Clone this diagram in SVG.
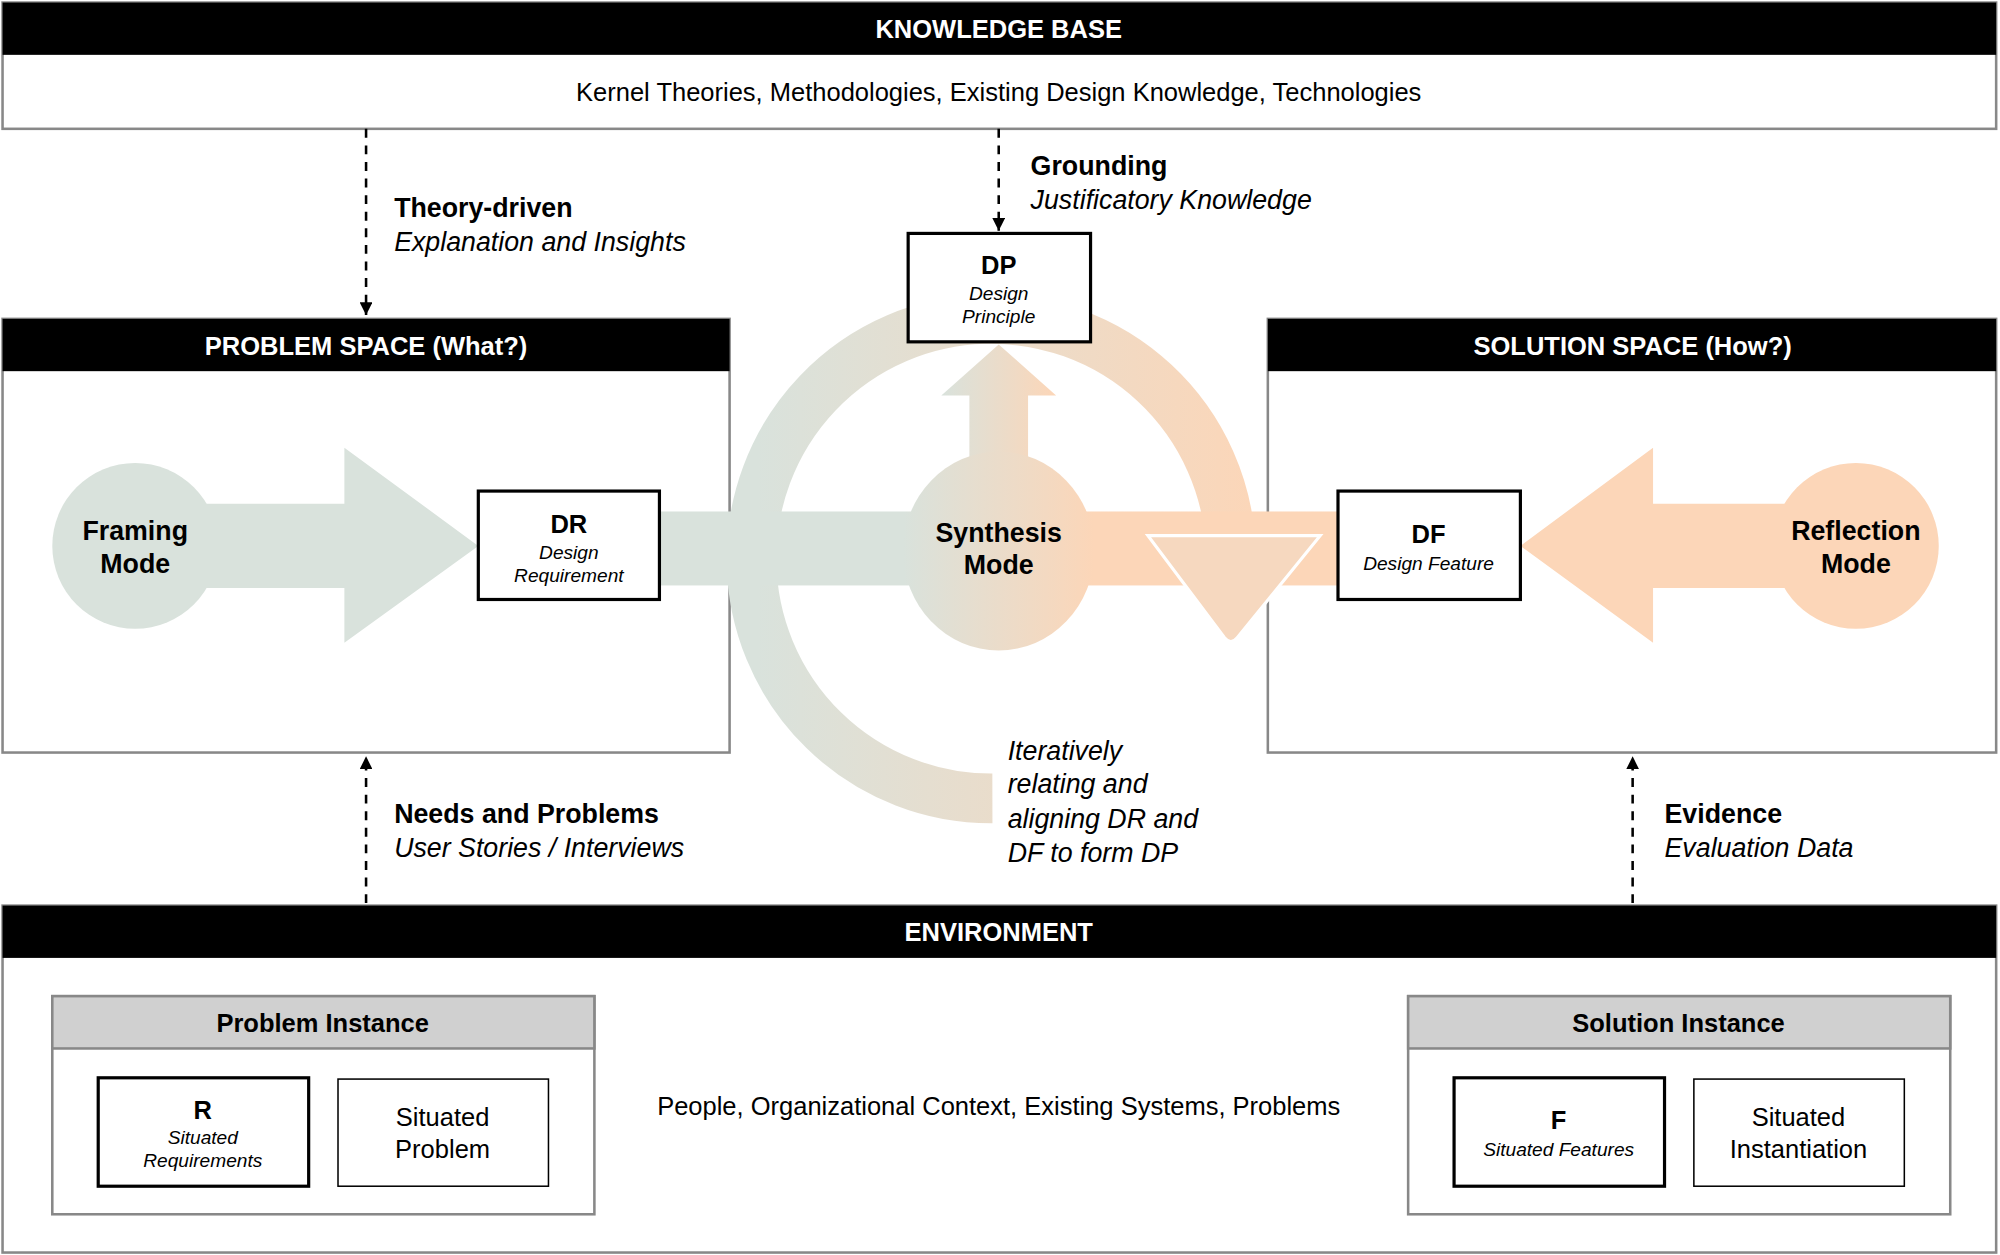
<svg xmlns="http://www.w3.org/2000/svg" width="2000" height="1255" viewBox="0 0 2000 1255">
<defs>
<linearGradient id="gH" x1="0" y1="0" x2="1" y2="0"><stop offset="0" stop-color="#d9e2dc"/><stop offset="1" stop-color="#fcd6b8"/></linearGradient>
<linearGradient id="gBand" gradientUnits="userSpaceOnUse" x1="517" y1="0" x2="1049" y2="0"><stop offset="0.36" stop-color="#d9e2dc"/><stop offset="0.64" stop-color="#fcd6b8"/></linearGradient>
<linearGradient id="gRing" gradientUnits="userSpaceOnUse" x1="571" y1="0" x2="1035" y2="0"><stop offset="0.05" stop-color="#d9e2dc"/><stop offset="0.9" stop-color="#fcd6b8"/></linearGradient>
<marker id="ah" viewBox="0 0 10 10" refX="10" refY="5" markerWidth="10" markerHeight="10" markerUnits="userSpaceOnUse" orient="auto"><path d="M0,0 L10,5 L0,10 z" fill="#000"/></marker>
<style>
text{font-family:"Liberation Sans",Arial,sans-serif;fill:#000}
.hd{font-weight:bold;font-size:20px;fill:#fff;text-anchor:middle}
.b{font-weight:bold;font-size:21px}
.i{font-style:italic;font-size:21px}
.r{font-size:20px}
.c{text-anchor:middle}
.bt{font-weight:bold;font-size:20px;text-anchor:middle}
.sm{font-style:italic;font-size:15px;text-anchor:middle}
.frame{fill:#fff;stroke:#888;stroke-width:2}
.box{fill:#fff;stroke:#000;stroke-width:2.5}
.dash{stroke:#000;stroke-width:2;stroke-dasharray:7 6;fill:none}
</style>
</defs>
<g transform="scale(1.2755)">
<g id="knowledge-base">
<rect class="frame" x="2" y="2" width="1563" height="99"/>
<rect x="2" y="2" width="1563" height="41" fill="#000"/>
<text class="hd" x="783" y="30">KNOWLEDGE BASE</text>
<text class="r c" x="783" y="79">Kernel Theories, Methodologies, Existing Design Knowledge, Technologies</text>
</g>
<g id="problem-space">
<rect class="frame" x="2" y="250" width="570" height="340"/>
<rect x="2" y="250" width="570" height="41" fill="#000"/>
<text class="hd" x="287" y="278">PROBLEM SPACE (What?)</text>
</g>
<g id="solution-space">
<rect class="frame" x="994" y="250" width="571" height="340"/>
<rect x="994" y="250" width="571" height="41" fill="#000"/>
<text class="hd" x="1280" y="278">SOLUTION SPACE (How?)</text>
</g>
<g id="iteration-ring">
<path d="M772,626 L778,626 A188,188 0 1 1 965,430 L965,420" fill="none" stroke="url(#gRing)" stroke-width="39"/>
</g>
<g id="band">
<rect x="517" y="401" width="532" height="58" fill="url(#gBand)"/>
<path d="M900,420 L1035,420 L970,500 Q965,506 960,500 Z" fill="#f6d8bf" stroke="#fff" stroke-width="2.5"/>
</g>
<g id="framing-mode">
<circle cx="106" cy="428" r="65" fill="#d9e2dc"/>
<path d="M106,395 L270,395 L270,351 L375,428 L270,504 L270,461 L106,461 Z" fill="#d9e2dc"/>
<text class="b c" x="106" y="423">Framing</text>
<text class="b c" x="106" y="449">Mode</text>
</g>
<g id="reflection-mode">
<circle cx="1455" cy="428" r="65" fill="#fcd6b8"/>
<path d="M1455,395 L1296,395 L1296,351 L1192,428 L1296,504 L1296,461 L1455,461 Z" fill="#fcd6b8"/>
<text class="b c" x="1455" y="423">Reflection</text>
<text class="b c" x="1455" y="449">Mode</text>
</g>
<g id="synthesis-mode">
<path d="M760,360 L760,310 L738,310 L783,270 L828,310 L806,310 L806,360 Z" fill="url(#gH)"/>
<ellipse cx="783" cy="432" rx="75" ry="78" fill="url(#gH)"/>
<text class="b c" x="783" y="425">Synthesis</text>
<text class="b c" x="783" y="450">Mode</text>
</g>
<g id="dp">
<rect class="box" x="712" y="183" width="143" height="85"/>
<text class="bt" x="783" y="215">DP</text>
<text class="sm" x="783" y="235">Design</text>
<text class="sm" x="783" y="253">Principle</text>
</g>
<g id="dr">
<rect class="box" x="375" y="385" width="142" height="85"/>
<text class="bt" x="446" y="418">DR</text>
<text class="sm" x="446" y="438">Design</text>
<text class="sm" x="446" y="456">Requirement</text>
</g>
<g id="df">
<rect class="box" x="1049" y="385" width="143" height="85"/>
<text class="bt" x="1120" y="426">DF</text>
<text class="sm" x="1120" y="447">Design Feature</text>
</g>
<g id="connectors">
<line class="dash" x1="287" y1="101" x2="287" y2="247" marker-end="url(#ah)"/>
<line class="dash" x1="783" y1="101" x2="783" y2="181" marker-end="url(#ah)"/>
<line class="dash" x1="287" y1="708" x2="287" y2="593" marker-end="url(#ah)"/>
<line class="dash" x1="1280" y1="708" x2="1280" y2="593" marker-end="url(#ah)"/>
</g>
<g id="labels">
<text class="b" x="309" y="170">Theory-driven</text>
<text class="i" x="309" y="197">Explanation and Insights</text>
<text class="b" x="808" y="137">Grounding</text>
<text class="i" x="808" y="164">Justificatory Knowledge</text>
<text class="b" x="309" y="645">Needs and Problems</text>
<text class="i" x="309" y="672">User Stories / Interviews</text>
<text class="b" x="1305" y="645">Evidence</text>
<text class="i" x="1305" y="672">Evaluation Data</text>
<text class="i" x="790" y="596">Iteratively</text>
<text class="i" x="790" y="622">relating and</text>
<text class="i" x="790" y="649">aligning DR and</text>
<text class="i" x="790" y="676">DF to form DP</text>
</g>
<g id="environment">
<rect class="frame" x="2" y="710" width="1563" height="272"/>
<rect x="2" y="710" width="1563" height="41" fill="#000"/>
<text class="hd" x="783" y="738">ENVIRONMENT</text>
<text class="r c" x="783" y="874">People, Organizational Context, Existing Systems, Problems</text>
</g>
<g id="problem-instance">
<rect class="frame" x="41" y="781" width="425" height="171"/>
<rect x="41" y="781" width="425" height="41" fill="#d0d0d0" stroke="#888" stroke-width="2"/>
<text class="bt" x="253" y="809">Problem Instance</text>
<rect class="box" x="77" y="845" width="165" height="85"/>
<text class="bt" x="159" y="877">R</text>
<text class="sm" x="159" y="897">Situated</text>
<text class="sm" x="159" y="915">Requirements</text>
<rect x="265" y="846" width="165" height="84" fill="#fff" stroke="#000" stroke-width="1.2"/>
<text class="r c" x="347" y="883">Situated</text>
<text class="r c" x="347" y="908">Problem</text>
</g>
<g id="solution-instance">
<rect class="frame" x="1104" y="781" width="425" height="171"/>
<rect x="1104" y="781" width="425" height="41" fill="#d0d0d0" stroke="#888" stroke-width="2"/>
<text class="bt" x="1316" y="809">Solution Instance</text>
<rect class="box" x="1140" y="845" width="165" height="85"/>
<text class="bt" x="1222" y="885">F</text>
<text class="sm" x="1222" y="906">Situated Features</text>
<rect x="1328" y="846" width="165" height="84" fill="#fff" stroke="#000" stroke-width="1.2"/>
<text class="r c" x="1410" y="883">Situated</text>
<text class="r c" x="1410" y="908">Instantiation</text>
</g>
</g>
</svg>
